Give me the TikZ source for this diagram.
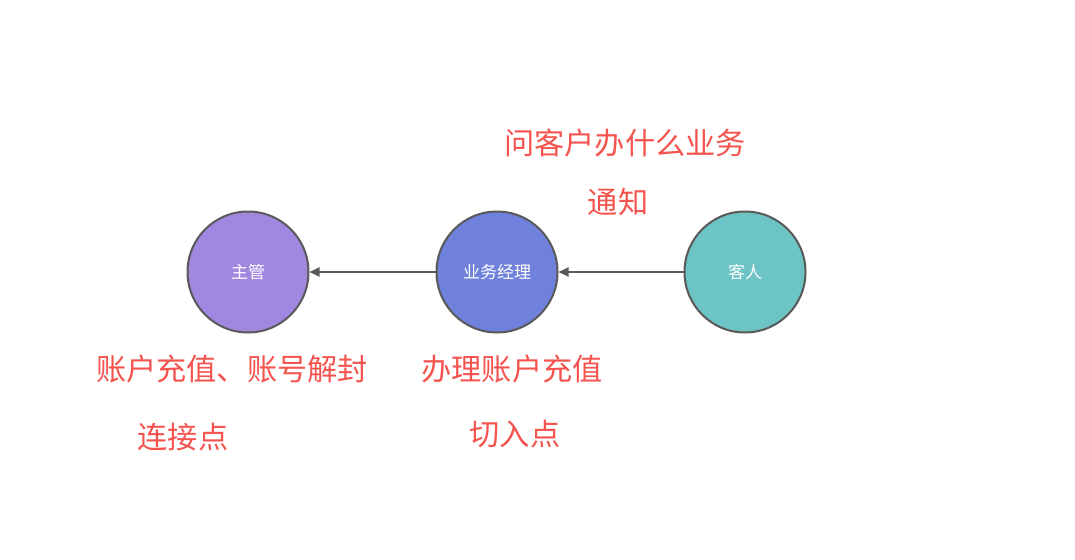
\documentclass[tikz,border=0pt]{standalone}
\usepackage{fontspec}
\newfontfamily\cjk{Noto Sans CJK SC}
\usetikzlibrary{arrows.meta}
\definecolor{cPurple}{HTML}{A287E1}
\definecolor{cBlue}{HTML}{6F81DA}
\definecolor{cTeal}{HTML}{6CC4C4}
\definecolor{cEdge}{HTML}{595959}
\definecolor{cRed}{HTML}{F4534E}
\tikzset{
  role/.style={circle, draw=cEdge, line width=2pt, minimum size=121pt, inner sep=0pt, text=white, font=\cjk\fontsize{17}{19}\selectfont},
  note/.style={text=cRed, inner sep=0pt, font=\cjk\fontsize{30.2}{33}\selectfont},
  link/.style={draw=cEdge, line width=2pt, -{Triangle[length=10pt,width=9pt]}}
}
\begin{document}
\begin{tikzpicture}[x=1pt,y=-1pt]
\useasboundingbox (0,0) rectangle (1075,559);
\node[role, fill=cPurple] (boss) at (248,272) {主管};
\node[role, fill=cBlue] (mgr) at (497,272) {业务经理};
\node[role, fill=cTeal] (cust) at (745,272) {客人};
\draw[link] (cust) -- (mgr);
\draw[link] (mgr) -- (boss);
\node[note] (n1) at (625,143) {问客户办什么业务};
\node[note] (n2) at (618,202) {通知};
\node[note] (n3) at (232,369) {账户充值、账号解封};
\node[note] (n4) at (183,437) {连接点};
\node[note] (n5) at (512,369) {办理账户充值};
\node[note] (n6) at (515,434) {切入点};
\end{tikzpicture}
\end{document}
